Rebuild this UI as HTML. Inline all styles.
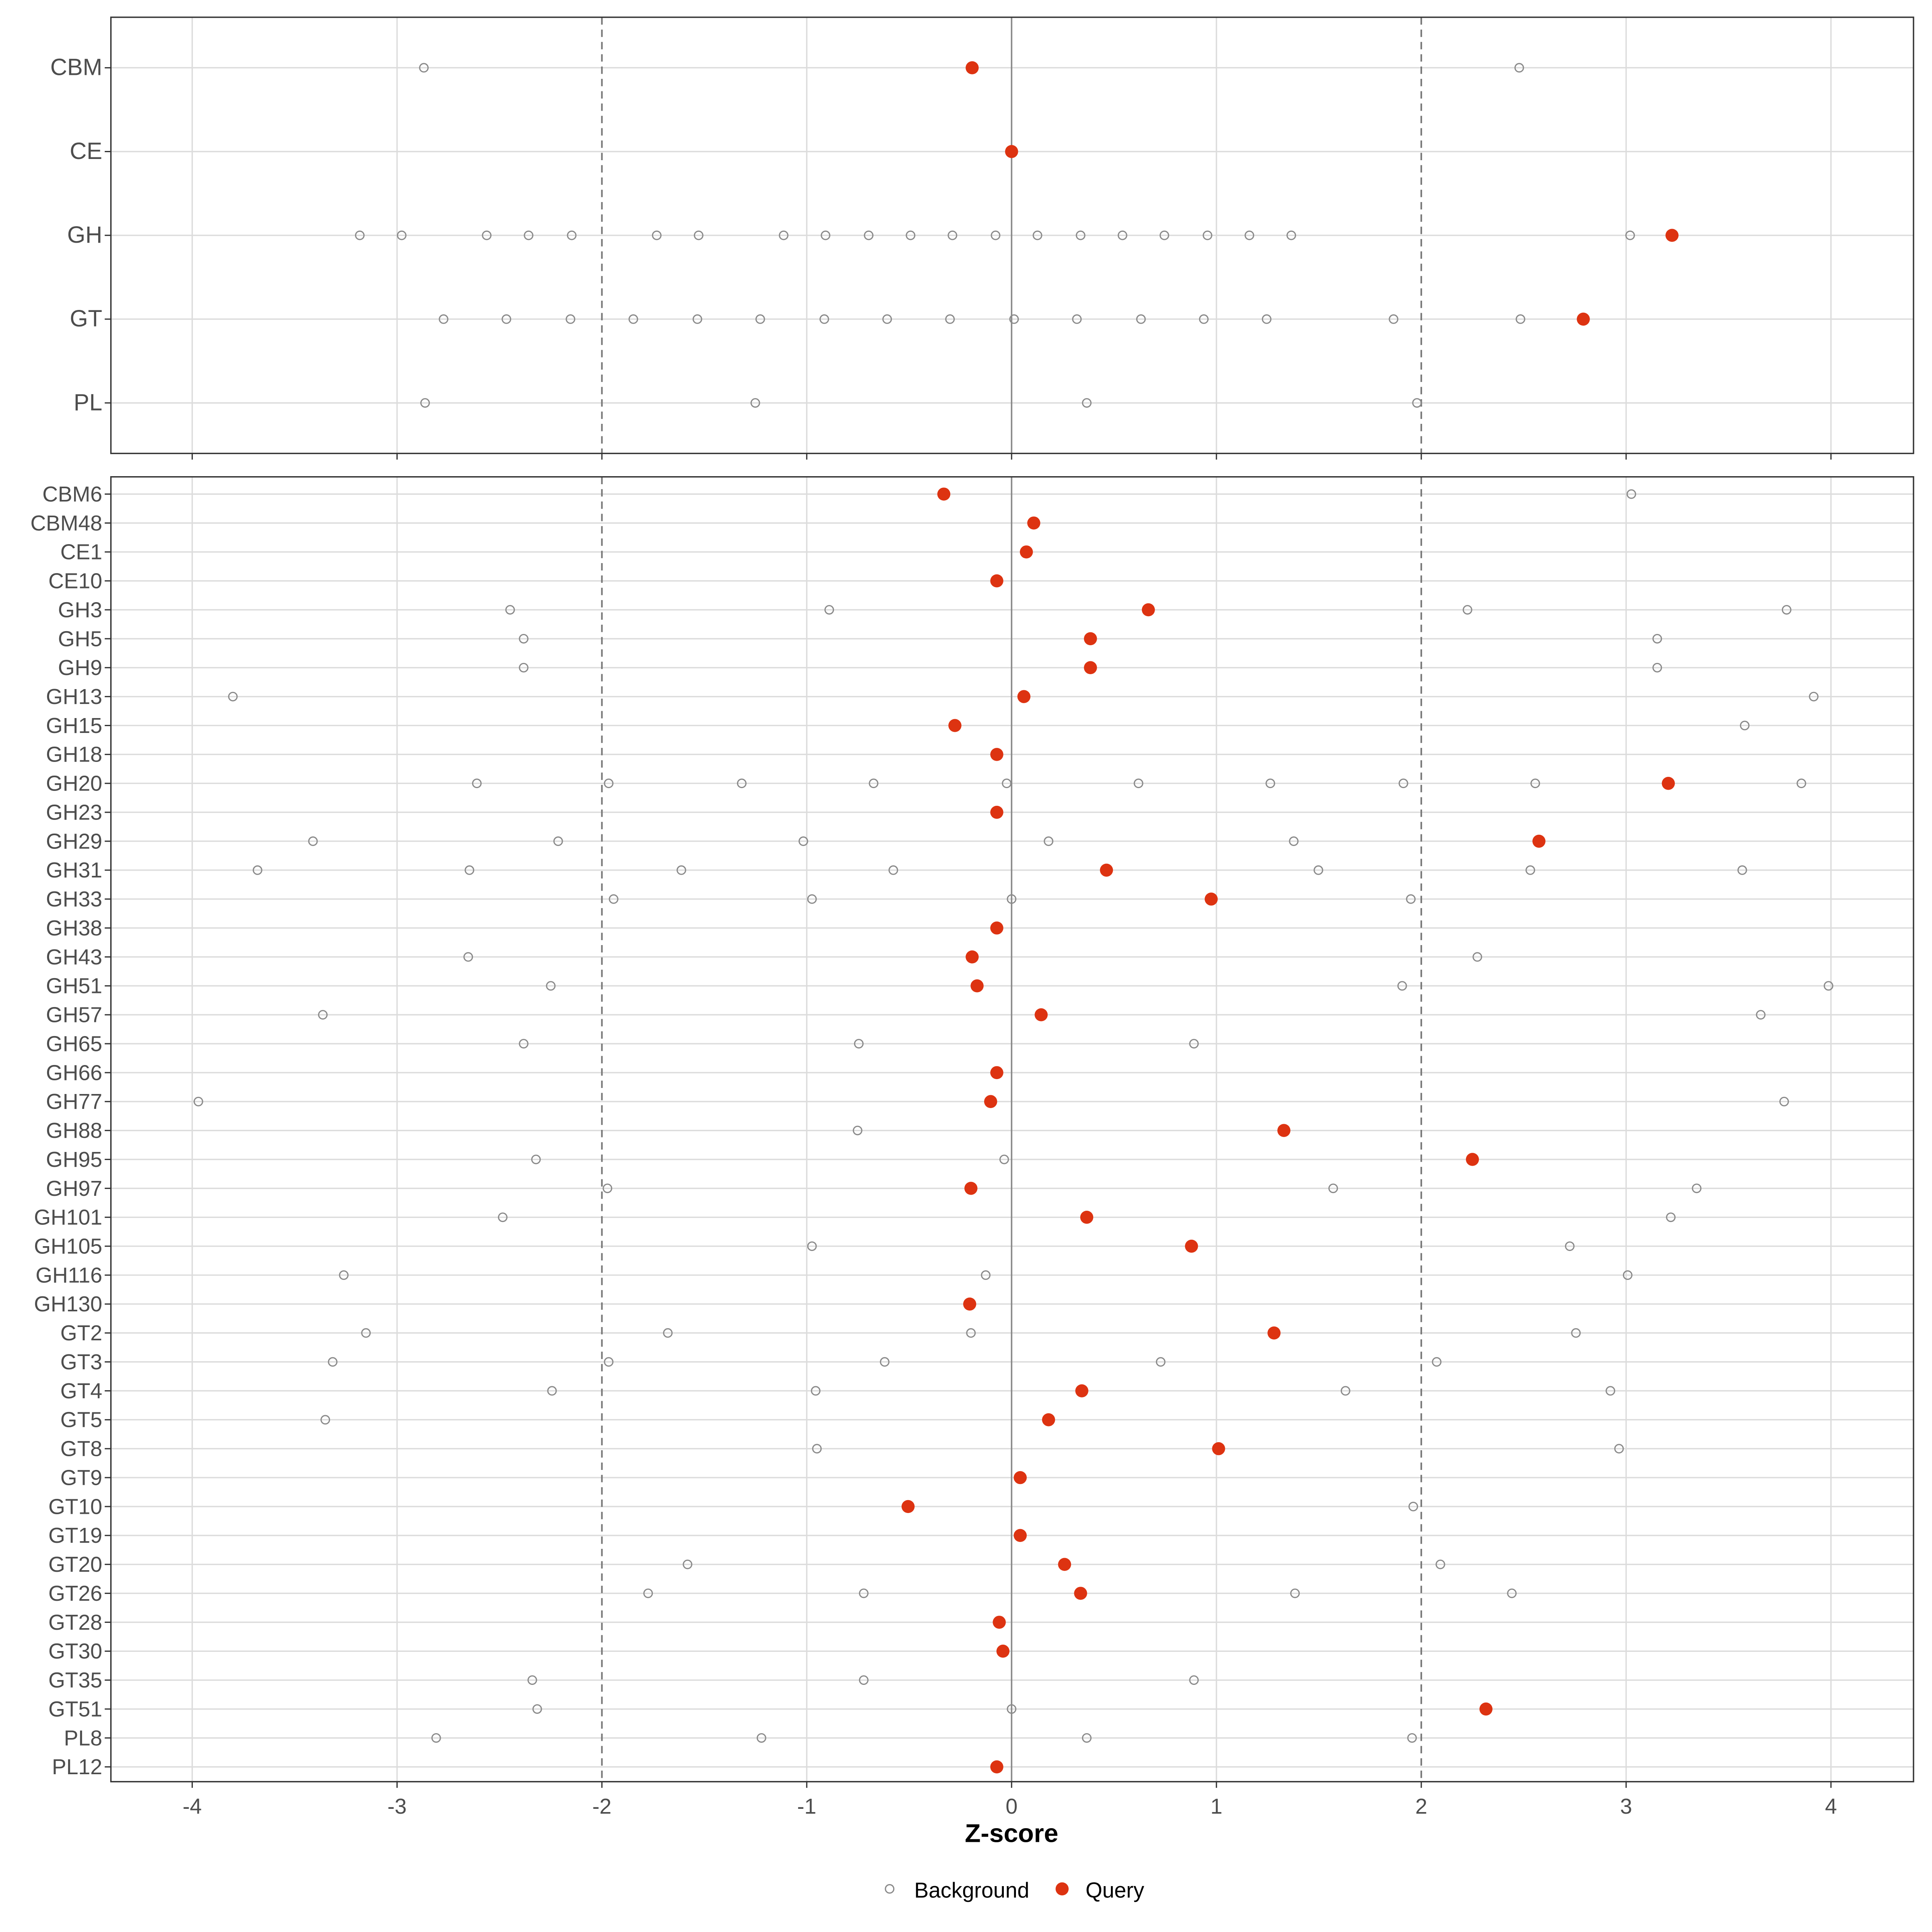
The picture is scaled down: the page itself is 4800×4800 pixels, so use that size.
<!DOCTYPE html>
<html><head><meta charset="utf-8"><style>html,body{margin:0;padding:0;background:#fff}svg{display:block}</style></head>
<body>
<svg id="s" xmlns="http://www.w3.org/2000/svg" width="4800" height="4800" viewBox="0 0 1568 1568" font-family="Liberation Sans, sans-serif">
<rect width="1568" height="1568" fill="#fff"/>
<g id="g"></g>
</svg>
<script>
(function(){
const g=document.getElementById('g');const NS='http://www.w3.org/2000/svg';
function el(t,a,txt){const e=document.createElementNS(NS,t);for(const k in a)e.setAttribute(k,a[k]);if(txt!==undefined)e.textContent=txt;g.appendChild(e);return e;}
const L=90,R=1553,X=v=>821+v*166.25;
function panel(y0,y1,rows){
  for(let v=-4;v<=4;v++){ if(v===0||Math.abs(v)===2)continue; el('line',{x1:X(v),x2:X(v),y1:y0,y2:y1,stroke:'#dcdcdc','stroke-width':1.1});}
  rows.forEach(r=>el('line',{x1:L,x2:R,y1:r.y,y2:r.y,stroke:'#dcdcdc','stroke-width':1.1}));
  el('line',{x1:X(0),x2:X(0),y1:y0,y2:y1,stroke:'#888','stroke-width':1.2});
  [-2,2].forEach(v=>el('line',{x1:X(v),x2:X(v),y1:y0,y2:y1,stroke:'#777','stroke-width':1.3,'stroke-dasharray':'6,4'}));
  rows.forEach(r=>{
    (r.b||[]).forEach(x=>el('circle',{cx:x,cy:r.y,r:3.4,fill:'none',stroke:'#8a8a8a','stroke-width':1}));
    if(r.q)el('circle',{cx:r.q,cy:r.y,r:5.3,fill:'#dd3311'});
    el('line',{x1:85,x2:L,y1:r.y,y2:r.y,stroke:'#333','stroke-width':1});
    el('text',{x:83,y:r.y+6,'text-anchor':'end','font-size':r.fs,fill:'#4d4d4d'},r.n);
  });
  el('rect',{x:L,y:y0,width:R-L,height:y1-y0,fill:'none',stroke:'#333','stroke-width':1.1});
  for(let v=-4;v<=4;v++)el('line',{x1:X(v),x2:X(v),y1:y1,y2:y1+5,stroke:'#333','stroke-width':1});
}
const topRows=[['CBM',[344,1233],789],['CE',[],821],['GH',[292,326,395,429,464,533,567,636,670,705,739,773,808,842,877,911,945,980,1014,1048,1323],1357],['GT',[360,411,463,514,566,617,669,720,771,823,874,926,977,1028,1131,1234],1285],['PL',[345,613,882,1150],0]];
panel(14,368,topRows.map((r,i)=>({n:r[0],b:r[1],q:r[2],y:55+i*68,fs:19})));
const bot=[['CBM6',[1324],766],['CBM48',[],839],['CE1',[],833],['CE10',[],809],['GH3',[414,673,1191,1450],932],['GH5',[425,1345],885],['GH9',[425,1345],885],['GH13',[189,1472],831],['GH15',[1416],775],['GH18',[],809],['GH20',[387,494,602,709,817,924,1031,1139,1246,1462],1354],['GH23',[],809],['GH29',[254,453,652,851,1050],1249],['GH31',[209,381,553,725,1070,1242,1414],898],['GH33',[498,659,821,1145],983],['GH38',[],809],['GH43',[380,1199],789],['GH51',[447,1138,1484],793],['GH57',[262,1429],845],['GH65',[425,697,969],0],['GH66',[],809],['GH77',[161,1448],804],['GH88',[696],1042],['GH95',[435,815],1195],['GH97',[493,1082,1377],788],['GH101',[408,1356],882],['GH105',[659,1274],967],['GH116',[279,800,1321],0],['GH130',[],787],['GT2',[297,542,788,1279],1034],['GT3',[270,494,718,942,1166],0],['GT4',[448,662,1092,1307],878],['GT5',[264],851],['GT8',[663,1314],989],['GT9',[],828],['GT10',[1147],737],['GT19',[],828],['GT20',[558,1169],864],['GT26',[526,701,1051,1227],877],['GT28',[],811],['GT30',[],814],['GT35',[432,701,969],0],['GT51',[436,821],1206],['PL8',[354,618,882,1146],0],['PL12',[],809]];
panel(387,1446,bot.map((r,i)=>({n:r[0],b:r[1],q:r[2],y:401+i*23.477,fs:17.5})));
for(let v=-4;v<=4;v++)el('text',{x:X(v),y:1472,'text-anchor':'middle','font-size':17.5,fill:'#4d4d4d'},String(v));
el('text',{x:821,y:1495,'text-anchor':'middle','font-size':21,'font-weight':'bold',fill:'#000'},'Z-score');
el('circle',{cx:722,cy:1533,r:3.4,fill:'none',stroke:'#8a8a8a','stroke-width':1});
el('text',{x:742,y:1540,'font-size':17.5,fill:'#000'},'Background');
el('circle',{cx:862,cy:1533,r:5.3,fill:'#dd3311'});
el('text',{x:881,y:1540,'font-size':17.5,fill:'#000'},'Query');
})();
</script>
</body></html>
